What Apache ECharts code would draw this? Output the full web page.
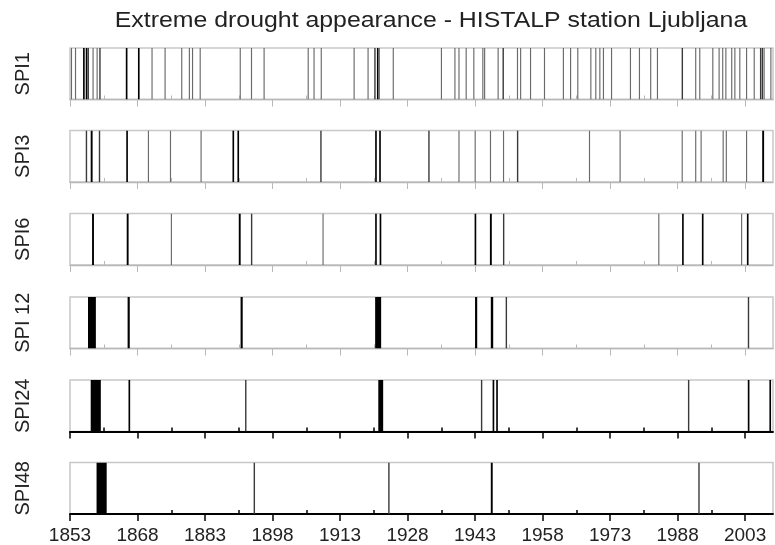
<!DOCTYPE html>
<html>
<head>
<meta charset="utf-8">
<script src="https://cdn.jsdelivr.net/npm/echarts@6/dist/echarts.min.js"></script>
<style>
  html, body { margin: 0; padding: 0; background: #fff; }
  #main { width: 775px; height: 545px; }
</style>
</head>
<body>
<div id="main"></div>
<script>
// panel names, top to bottom
var panelNames = ['SPI1', 'SPI3', 'SPI6', 'SPI 12', 'SPI24', 'SPI48'];
var titleText = 'Extreme drought appearance - HISTALP station Ljubljana';

// year axis
var yearMin = 1853, yearMax = 2009.2;
var majorYears = [1853, 1868, 1883, 1898, 1913, 1928, 1943, 1958, 1973, 1988, 2003];
var minorYears = [1860.5, 1875.5, 1890.5, 1905.5, 1920.5, 1935.5, 1950.5, 1965.5, 1980.5, 1995.5];

// extreme drought events: [start year, duration in months]
var spi1 = [
  [1853.2, 1], [1854.1, 1], [1855.9, 3], [1856.5, 3], [1856.9, 2], [1858.0, 1], [1858.9, 1], [1859.5, 2],
  [1865.4, 3], [1868.1, 3], [1871.1, 1], [1874.0, 1], [1877.7, 1], [1879.4, 1], [1880.1, 1], [1881.8, 1],
  [1890.7, 1], [1893.2, 1], [1896.0, 1], [1905.8, 1], [1907.1, 1], [1908.7, 1], [1916.0, 1], [1919.1, 1],
  [1920.6, 2], [1921.2, 3], [1921.6, 1], [1924.7, 1], [1935.4, 1], [1938.4, 1], [1939.3, 1], [1940.9, 1],
  [1942.6, 1], [1944.6, 1], [1945.0, 1], [1948.0, 1], [1949.1, 2], [1952.3, 1], [1953.0, 1], [1955.2, 1],
  [1958.3, 1], [1962.5, 1], [1964.1, 1], [1965.7, 1], [1968.6, 1], [1969.7, 1], [1970.6, 1], [1971.4, 1],
  [1973.2, 1], [1977.4, 1], [1979.4, 1], [1981.9, 1], [1983.4, 1], [1988.9, 2], [1991.9, 1], [1992.8, 1],
  [1995.7, 1], [1997.1, 1], [1997.9, 1], [1998.6, 1], [1999.9, 1], [2000.6, 1], [2001.7, 1], [2003.2, 1],
  [2004.9, 1], [2006.3, 2], [2006.7, 2], [2007.1, 1], [2008.6, 1]
];
var spi3 = [
  [1856.5, 2], [1857.6, 4], [1859.4, 2], [1865.5, 3], [1870.3, 1], [1875.2, 1], [1882.0, 1], [1889.1, 3],
  [1890.2, 3], [1908.6, 2], [1920.8, 3], [1921.7, 3], [1932.6, 2], [1939.3, 1], [1942.9, 1], [1946.3, 1],
  [1949.2, 1], [1952.3, 2], [1968.3, 1], [1975.1, 1], [1988.9, 1], [1991.9, 1], [1993.1, 1], [1998.0, 1],
  [1998.7, 1], [2003.2, 1], [2006.8, 4]
];
var spi6 = [
  [1857.9, 4], [1865.6, 4], [1875.4, 1], [1890.5, 4], [1893.2, 2], [1909.1, 1], [1920.8, 3], [1921.8, 3],
  [1942.9, 3], [1946.3, 4], [1949.2, 2], [1983.7, 1], [1989.0, 3], [1993.4, 3], [2002.1, 1], [2003.4, 3]
];
var spi12 = [
  [1857.0, 21], [1865.8, 5], [1890.9, 5], [1920.8, 16], [1943.0, 5], [1946.5, 6], [1949.8, 2], [2003.6, 2]
];
var spi24 = [
  [1857.6, 27], [1866.0, 3], [1891.9, 2], [1921.5, 13], [1944.3, 2], [1946.9, 3], [1947.7, 3],
  [1990.3, 2], [2003.6, 3], [2008.4, 3]
];
var spi48 = [
  [1858.9, 27], [1893.8, 2], [1923.7, 2], [1946.5, 4], [1992.6, 2]
];
var panelData = [spi1, spi3, spi6, spi12, spi24, spi48];

var chart = echarts.init(document.getElementById('main'));

var tops = [48, 130.5, 213.5, 297, 380, 462.5];
var panelH = 51.5;
var fontFam = '"Liberation Sans", Arial, sans-serif';

var grids = [], xAxes = [], yAxes = [], series = [];

tops.forEach(function (top, i) {
  var last = i === tops.length - 1;
  var dark = i >= 4; // SPI24 and SPI48 have black axes
  var axColor = dark ? '#000' : '#b8b8b8';
  grids.push({
    left: 70, right: 2, top: top, height: panelH,
    show: true, borderColor: '#c8c8c8', borderWidth: 1.5, backgroundColor: '#fff'
  });
  // major ticks (+ labels on last panel)
  xAxes.push({
    type: 'value', gridIndex: i, min: yearMin, max: yearMax,
    axisLine: { show: true, onZero: false, lineStyle: { color: axColor, width: dark ? 1.8 : 1.3 } },
    axisTick: { show: true, customValues: majorYears, length: 7, lineStyle: { color: axColor, width: dark ? 1.5 : 1 } },
    axisLabel: {
      show: last, customValues: majorYears, margin: 12,
      fontSize: 19, color: '#222', fontFamily: fontFam,
      formatter: function (v) { return String(v); }
    },
    splitLine: { show: false }
  });
  // minor ticks
  xAxes.push({
    type: 'value', gridIndex: i, min: yearMin, max: yearMax,
    axisLine: { show: false },
    axisTick: { show: true, customValues: minorYears, length: 4, lineStyle: { color: axColor, width: dark ? 1.5 : 1 } },
    axisLabel: { show: false },
    splitLine: { show: false }
  });
  yAxes.push({
    type: 'value', gridIndex: i, min: 0, max: 1,
    name: panelNames[i], nameLocation: 'middle', nameRotate: 90, nameGap: 37,
    nameTextStyle: { fontSize: 20, color: '#222', fontFamily: fontFam },
    axisLine: { show: false }, axisTick: { show: false }, axisLabel: { show: false },
    splitLine: { show: false }
  });
  series.push({
    type: 'custom',
    xAxisIndex: i * 2, yAxisIndex: i,
    data: panelData[i],
    clip: true,
    renderItem: function (params, api) {
      var start = api.value(0), months = api.value(1);
      var p0 = api.coord([start, 1]);
      var p1 = api.coord([start + months / 12, 0]);
      var w = Math.max(p1[0] - p0[0], 0.9 + 0.25 * months);
      var color = months === 1 ? '#6a6a6a' : (months === 2 ? '#3a3a3a' : '#000');
      return {
        type: 'rect',
        shape: { x: p0[0], y: p0[1], width: w, height: p1[1] - p0[1] },
        style: { fill: color }
      };
    },
    silent: true
  });
});

chart.setOption({
  animation: false,
  backgroundColor: '#fff',
  // title drawn as graphic text so it can be stretched like the original figure
  graphic: [{
    type: 'text', x: 431, y: 10, scaleX: 1.13,
    style: {
      text: titleText, textAlign: 'center', textVerticalAlign: 'top',
      font: '22px "Liberation Sans", Arial, sans-serif', fill: '#222'
    }
  }],
  grid: grids,
  xAxis: xAxes,
  yAxis: yAxes,
  series: series
});
</script>
</body>
</html>
